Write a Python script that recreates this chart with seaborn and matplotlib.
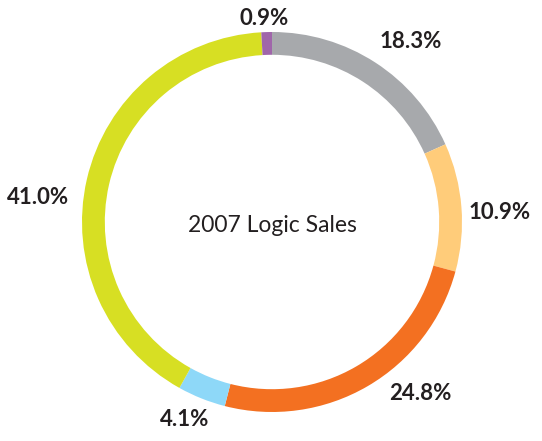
import matplotlib
matplotlib.use("Agg")
import matplotlib.pyplot as plt
import seaborn as sns

sns.set_style("white")
plt.rcParams['font.family'] = ['Lato', 'DejaVu Sans']

# slices, clockwise from 12 o'clock
shares = [18.3, 10.9, 24.8, 4.1, 41.0, 0.9]
labels = ["18.3%", "10.9%", "24.8%", "4.1%", "41.0%", "0.9%"]
colors = ["#A7A9AC", "#FFCC7A", "#F37021", "#8ED8F8", "#D7DF23", "#A066AA"]
title = "2007 Logic Sales"

# where each label sits (in units of the ring radius)
label_pos = [(0.73, 0.95), (1.2, 0.05), (0.78, -0.9), (-0.46, -1.04),
             (-1.23, 0.13), (-0.04, 1.07)]

fig = plt.figure(figsize=(5.42, 4.41), dpi=100)
ax = fig.add_axes([82 / 542, 29 / 441, 380 / 542, 380 / 441])

wedges, texts = ax.pie(shares, colors=colors, labels=labels, startangle=90,
                       counterclock=False,
                       wedgeprops=dict(width=0.12, linewidth=0),
                       textprops=dict(fontsize=16, fontweight='bold', color='#231F20'))
for t, p in zip(texts, label_pos):
    t.set_position(p)
    t.set_ha('center')
    t.set_va('center')

ax.text(0, -0.02, title, ha='center', va='center', fontsize=16.5,
        fontweight='normal', color='#231F20')
ax.set_xlim(-1, 1)
ax.set_ylim(-1, 1)
ax.set_aspect('equal')
ax.axis('off')

fig.savefig("out.png", dpi=100)
